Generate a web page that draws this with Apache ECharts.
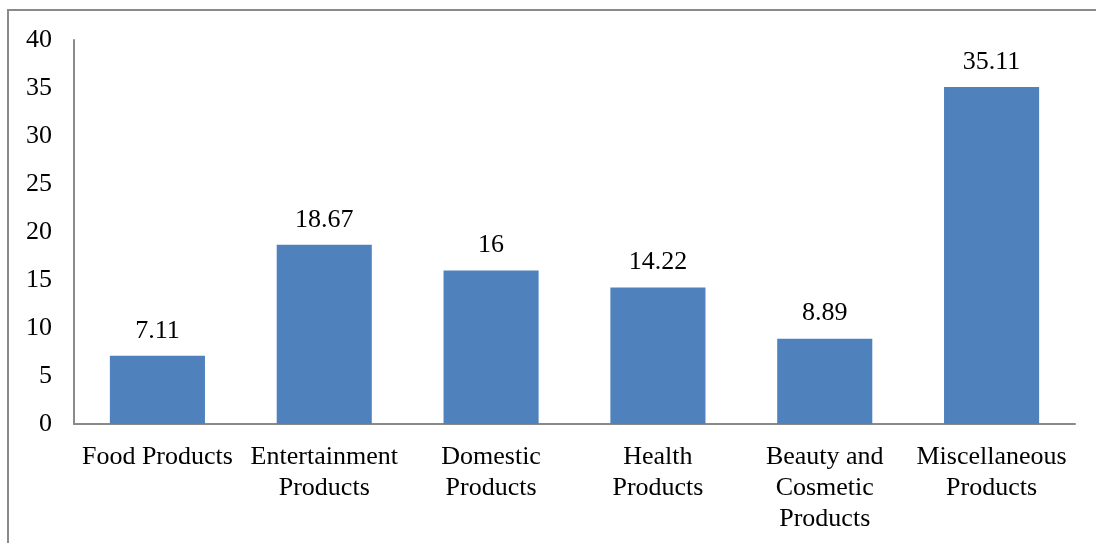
<!DOCTYPE html>
<html><head><meta charset="utf-8">
<script src="https://cdn.jsdelivr.net/npm/echarts@6/dist/echarts.min.js"></script>
<style>html,body{margin:0;padding:0;background:#fff}#c{width:1096px;height:543px}</style>
</head><body><div id="c"></div>
<script>
const categories = ["Food Products", "Entertainment\nProducts", "Domestic\nProducts", "Health\nProducts", "Beauty and\nCosmetic\nProducts", "Miscellaneous\nProducts"];
const values = [7.11, 18.67, 16, 14.22, 8.89, 35.11];
const yTicks = { min: 0, max: 40, interval: 5 };
const font = '"Liberation Serif", "Times New Roman", serif';
const chart = echarts.init(document.getElementById('c'));
chart.setOption({
  animation: false,
  backgroundColor: '#fff',
  graphic: [{ type: 'rect', shape: { x: 8, y: 10, width: 1200, height: 700 }, style: { fill: 'none', stroke: '#8a8a8a', lineWidth: 2 }, silent: true }],
  grid: { left: 74, right: 21, top: 40, bottom: 119 },
  xAxis: {
    type: 'category', data: categories,
    axisLine: { lineStyle: { color: '#8a8a8a', width: 2 } },
    axisTick: { show: false },
    axisLabel: { color: '#000', fontFamily: font, fontSize: 26, lineHeight: 31, margin: 18, interval: 0 }
  },
  yAxis: {
    type: 'value', min: yTicks.min, max: yTicks.max, interval: yTicks.interval,
    splitLine: { show: false },
    axisLine: { show: true, lineStyle: { color: '#8a8a8a', width: 2 } },
    axisTick: { show: false },
    axisLabel: { color: '#000', fontFamily: font, fontSize: 26, margin: 22 }
  },
  series: [{
    type: 'bar', data: values, barWidth: '57%',
    itemStyle: { color: '#4F81BD' },
    label: { show: true, position: 'top', distance: 12, color: '#000', fontFamily: font, fontSize: 26 }
  }]
});
</script></body></html>
